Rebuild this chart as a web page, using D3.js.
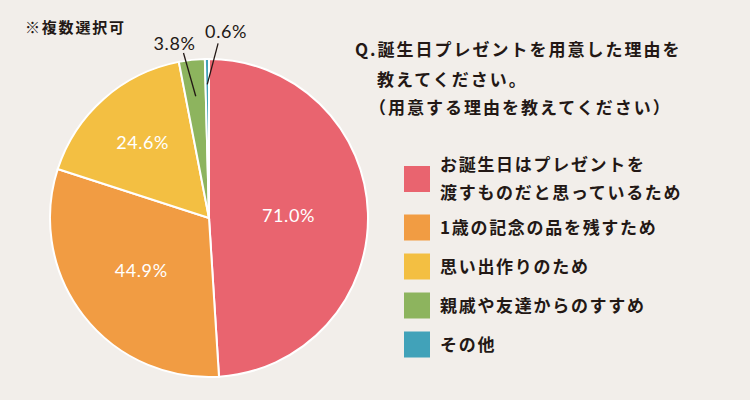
<!DOCTYPE html>
<html>
<head>
<meta charset="utf-8">
<script src="https://cdn.jsdelivr.net/npm/d3@7"></script>
<style>
  html, body { margin: 0; padding: 0; background: #f2eeea; }
  svg { display: block; }
  .jp { font-family: "Noto Sans CJK JP", "Noto Sans", sans-serif; font-weight: 700; fill: #231815; }
  .num { font-family: "Lato", "Noto Sans", sans-serif; }
</style>
</head>
<body>
<svg id="chart"></svg>
<script>
// chart data
var categories = [
    'お誕生日はプレゼントを\n渡すものだと思っているため',
    '1歳の記念の品を残すため',
    '思い出作りのため',
    '親戚や友達からのすすめ',
    'その他'
];
var values = [71.0, 44.9, 24.6, 3.8, 0.6];
var titleLines = [
    'Q.誕生日プレゼントを用意した理由を',
    '教えてください。',
    '（用意する理由を教えてください）'
];
var noteText = '※複数選択可';

var colors = ['#e9646f', '#f19c43', '#f3bf42', '#8db45e', '#41a2b9'];

var width = 750;
var height = 400;
var cx = 209, cy = 218, radius = 159;

var svg = d3.select('#chart')
    .attr('width', width)
    .attr('height', height);

svg.append('rect')
    .attr('width', width)
    .attr('height', height)
    .attr('fill', '#f2eeea');

var data = values.map(function (v, i) {
    return { name: categories[i], value: v, color: colors[i] };
});

var pie = d3.pie()
    .sort(null)
    .value(function (d) { return d.value; });

var arcs = pie(data);

var arc = d3.arc()
    .innerRadius(0)
    .outerRadius(radius);

var g = svg.append('g')
    .attr('transform', 'translate(' + cx + ',' + cy + ')');

g.selectAll('path.slice')
    .data(arcs)
    .enter()
    .append('path')
    .attr('class', 'slice')
    .attr('d', arc)
    .attr('fill', function (d) { return d.data.color; })
    .attr('stroke', '#ffffff')
    .attr('stroke-width', 2);

function fmt(v) {
    return v.toFixed(1) + '%';
}

function polar(angle, r) {
    return [Math.sin(angle) * r, -Math.cos(angle) * r];
}

// labels inside the big slices, outside for small ones
var insideRadius = [0.5, 0.54, 0.63];

arcs.forEach(function (d, i) {
    var mid = (d.startAngle + d.endAngle) / 2;
    if (i < 3) {
        var p = polar(mid, radius * insideRadius[i]);
        g.append('text')
            .attr('class', 'num')
            .attr('x', p[0])
            .attr('y', p[1])
            .attr('dy', '0.36em')
            .attr('text-anchor', 'middle')
            .attr('fill', '#ffffff')
            .attr('font-size', 18)
            .attr('letter-spacing', 0.6)
            .text(fmt(d.data.value));
    }
    else {
        var inner = polar(mid, radius * (i == 3 ? 0.77 : 0.84));
        var outer = i == 3 ? polar(mid - 0.045, radius * 1.05) : polar(mid + 0.065, radius * 1.1);
        g.append('line')
            .attr('x1', inner[0])
            .attr('y1', inner[1])
            .attr('x2', outer[0])
            .attr('y2', outer[1])
            .attr('stroke', '#231815')
            .attr('stroke-width', 1.3);
        var lx = i == 3 ? outer[0] - 9 : outer[0] + 8;
        var ly = i == 3 ? outer[1] - 3 : outer[1] - 5;
        g.append('text')
            .attr('class', 'num')
            .attr('x', lx)
            .attr('y', ly)
            .attr('text-anchor', 'middle')
            .attr('fill', '#231815')
            .attr('font-size', 18)
            .attr('letter-spacing', 0.6)
            .text(fmt(d.data.value));
    }
});

// note
svg.append('text')
    .attr('class', 'jp')
    .attr('x', 25)
    .attr('y', 33)
    .attr('font-size', 15)
    .attr('letter-spacing', 1.8)
    .text(noteText);

// title
var titleX = [355, 377, 369];
var titleY = [56, 86, 114];
svg.selectAll('text.title')
    .data(titleLines)
    .enter()
    .append('text')
    .attr('class', 'jp title')
    .attr('x', function (d, i) { return titleX[i]; })
    .attr('y', function (d, i) { return titleY[i]; })
    .attr('font-size', 17)
    .attr('letter-spacing', 2)
    .text(function (d) { return d; });

// legend
var legend = svg.append('g');
var lineHeight = 28;
var cursor = 150;
data.forEach(function (d, i) {
    var lines = d.name.split('\n');
    var h = 39 + (lines.length - 1) * 19;
    var center = cursor + h / 2;
    legend.append('rect')
        .attr('x', 404)
        .attr('y', center - 13)
        .attr('width', 26)
        .attr('height', 26)
        .attr('fill', d.color);
    var t = legend.append('text')
        .attr('class', 'jp')
        .attr('font-size', 17)
        .attr('letter-spacing', 1.7);
    lines.forEach(function (line, j) {
        t.append('tspan')
            .attr('x', 440)
            .attr('y', center + 6 + (j - (lines.length - 1) / 2) * lineHeight)
            .text(line);
    });
    cursor += h;
});
</script>
</body>
</html>
